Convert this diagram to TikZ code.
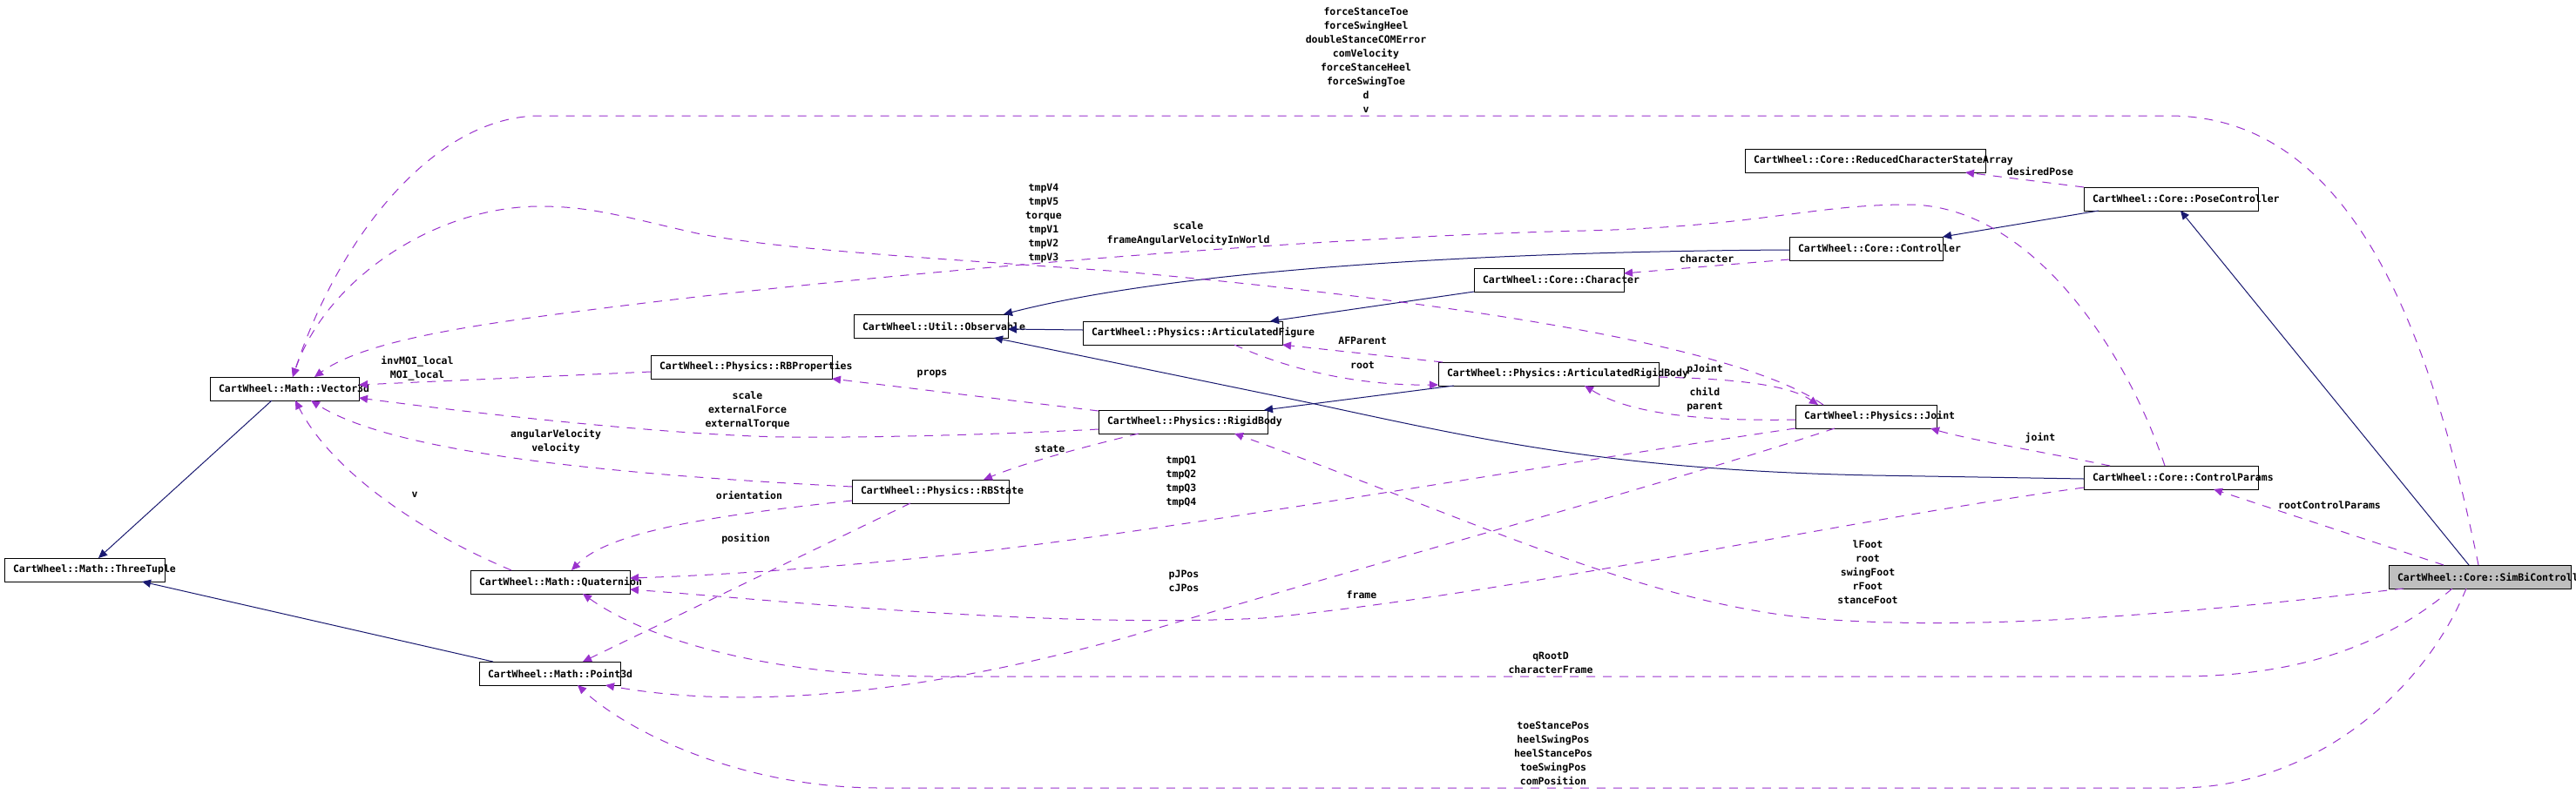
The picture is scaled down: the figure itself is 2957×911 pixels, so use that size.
\documentclass[tikz,border=0pt]{standalone}
\usepackage{fontspec}
\newfontfamily\dxfont{DejaVu Sans Mono}
\usetikzlibrary{arrows.meta,calc}
\definecolor{usepurple}{HTML}{9A32CD}
\definecolor{inhblue}{HTML}{191970}
\definecolor{rootgray}{HTML}{BFBFBF}
\newcommand{\labfont}{\dxfont\bfseries\fontsize{11.5}{16}\selectfont}
\begin{document}
\begin{tikzpicture}[x=1pt,y=-1pt,
  clsbox/.style={draw=black, line width=1pt, fill=white, inner xsep=10pt, inner ysep=0pt,
    minimum height=27pt, outer sep=0pt, font=\labfont},
  rootbox/.style={clsbox, fill=rootgray},
  inh/.style={draw=inhblue, line width=1pt, -{Triangle[length=10pt,width=9pt]}},
  use/.style={draw=usepurple, line width=1pt, dash pattern=on 10pt off 9pt, -{Triangle[length=10pt,width=9pt]}},
  lbl/.style={font=\labfont, align=center, inner sep=0pt, text=black}]
\useasboundingbox (0,0) rectangle (2957,911);
\fill[white] (0,0) rectangle (2957,911);

% ---------- class boxes ----------
\node[clsbox] (tt)   at (97,654.5)    {\makebox[164pt][l]{CartWheel::Math::ThreeTuple}};
\node[clsbox] (vec)  at (326.5,446.5) {\makebox[151pt][l]{CartWheel::Math::Vector3d}};
\node[clsbox] (quat) at (631.5,668.5) {\makebox[163pt][l]{CartWheel::Math::Quaternion}};
\node[clsbox] (p3)   at (631,773.5)   {\makebox[142pt][l]{CartWheel::Math::Point3d}};
\node[clsbox] (rbp)  at (851,421.5)   {\makebox[188pt][l]{CartWheel::Physics::RBProperties}};
\node[clsbox] (obs)  at (1068.5,374.5){\makebox[157pt][l]{CartWheel::Util::Observable}};
\node[clsbox] (rbs)  at (1068,564.5)  {\makebox[160pt][l]{CartWheel::Physics::RBState}};
\node[clsbox] (rb)   at (1358,484.5)  {\makebox[174pt][l]{CartWheel::Physics::RigidBody}};
\node[clsbox] (af)   at (1357.5,382.5){\makebox[209pt][l]{CartWheel::Physics::ArticulatedFigure}};
\node[clsbox] (arb)  at (1777.5,429.5){\makebox[233pt][l]{CartWheel::Physics::ArticulatedRigidBody}};
\node[clsbox] (ch)   at (1778,321.5)  {\makebox[152pt][l]{CartWheel::Core::Character}};
\node[clsbox] (ctl)  at (2142,285.5)  {\makebox[156pt][l]{CartWheel::Core::Controller}};
\node[clsbox] (rcsa) at (2141,184.5)  {\makebox[256pt][l]{CartWheel::Core::ReducedCharacterStateArray}};
\node[clsbox] (jt)   at (2142,478.5)  {\makebox[142pt][l]{CartWheel::Physics::Joint}};
\node[clsbox] (pc)   at (2492,228.5)  {\makebox[180pt][l]{CartWheel::Core::PoseController}};
\node[clsbox] (cp)   at (2492,548.5)  {\makebox[180pt][l]{CartWheel::Core::ControlParams}};
\node[rootbox] (sbc) at (2846.5,662.5){\makebox[189pt][l]{CartWheel::Core::SimBiController}};

% ---------- inheritance ----------
\draw[inh] ($(vec.north west)+(71,27)$) -- ($(tt.north west)+(108,0)$);
\draw[inh] ($(p3.north west)+(16,0)$) -- ($(tt.north west)+(158,27)$);
\draw[inh] ($(ctl.north west)+(0,15)$) .. controls (1700,289) and (1350,310) .. ($(obs.north west)+(172,0)$);
\draw[inh] ($(af.north west)+(0,10)$) -- ($(obs.north west)+(177,17)$);
\draw[inh] ($(cp.north west)+(0,15)$) -- (2150,546) .. controls (1850,540) and (1700,505) .. (1500,462) -- ($(obs.north west)+(161,27)$);
\draw[inh] ($(ch.north west)+(0,27)$) -- ($(af.north west)+(215,0)$);
\draw[inh] ($(arb.north west)+(18,27)$) -- ($(rb.north west)+(190,0)$);
\draw[inh] ($(pc.north west)+(17,27)$) -- ($(ctl.north west)+(176,0)$);
\draw[inh] ($(sbc.north west)+(92,0)$) -- ($(pc.north west)+(111,27)$);

% ---------- usage ----------
\draw[use] ($(rbp.north west)+(0,19)$) -- ($(vec.north west)+(171,9)$);
\draw[use] ($(rb.north west)+(0,22)$) .. controls (1150,499) and (1000,503) .. (904,502)
   .. controls (800,501) and (600,482) .. ($(vec.north west)+(171,24)$);
\draw[use] ($(rbs.north west)+(0,8)$) .. controls (700,545) and (450,520) .. ($(vec.north west)+(116,27)$);
\draw[use] ($(quat.north west)+(47,0)$) .. controls (480,610) and (380,540) .. ($(vec.north west)+(98,27)$);
\draw[use] ($(rb.north west)+(0,1)$) -- ($(rbp.north west)+(208,27)$);
\draw[use] ($(rb.north west)+(46,27)$) .. controls (1250,512) and (1180,530) .. ($(rbs.north west)+(151,0)$);
\draw[use] ($(rbs.north west)+(0,24)$) .. controls (820,592) and (700,610) .. ($(quat.north west)+(116,0)$);
\draw[use] ($(rbs.north west)+(67,27)$) -- ($(p3.north west)+(119,0)$);
\draw[use] ($(jt.north west)+(0,27)$) .. controls (1800,530) and (1400,600) .. (1138,632)
   .. controls (1000,648) and (850,660) .. ($(quat.north west)+(183,9)$);
\draw[use] ($(cp.north west)+(0,25)$) .. controls (2100,600) and (1750,680) .. (1450,710)
   .. controls (1200,722) and (900,690) .. ($(quat.north west)+(183,22)$);
\draw[use] ($(sbc.north west)+(73,27)$) .. controls (2740,740) and (2640,777) .. (2500,777) -- (1074,777)
   .. controls (900,777) and (750,740) .. ($(quat.north west)+(129,27)$);
\draw[use] ($(sbc.north west)+(89,27)$) .. controls (2780,800) and (2650,905) .. (2500,905) -- (1010,905)
   .. controls (850,905) and (720,840) .. ($(p3.north west)+(113,27)$);
\draw[use] ($(jt.north west)+(45,27)$) .. controls (1900,560) and (1600,640) .. (1300,730)
   .. controls (1050,800) and (850,815) .. ($(p3.north west)+(145,27)$);
\draw[use] ($(jt.north west)+(0,17)$) .. controls (1950,484) and (1870,475) .. ($(arb.north west)+(168,27)$);
\draw[use] ($(arb.north west)+(253,17)$) .. controls (1980,435) and (2050,440) .. ($(jt.north west)+(26,0)$);
\draw[use] ($(af.north west)+(174,27)$) .. controls (1480,425) and (1560,443) .. ($(arb.north west)+(0,26)$);
\draw[use] ($(arb.north west)+(5,0)$) -- ($(af.north west)+(229,27)$);
\draw[use] ($(ctl.north west)+(0,26)$) -- ($(ch.north west)+(172,6)$);
\draw[use] (pc.north west) -- ($(rcsa.north west)+(253,27)$);
\draw[use] ($(cp.north west)+(30,0)$) .. controls (2350,520) and (2260,505) .. ($(jt.north west)+(155,27)$);
\draw[use] ($(sbc.north west)+(63,0)$) -- ($(cp.north west)+(149,27)$);
\draw[use] ($(sbc.north west)+(17,27)$) .. controls (2550,700) and (2300,725) .. (2104,712)
   .. controls (1900,700) and (1700,600) .. ($(rb.north west)+(156,27)$);
\draw[use] ($(sbc.north west)+(103,0)$) .. controls (2790,380) and (2700,133) .. (2490,133) -- (620,133)
   .. controls (500,133) and (390,270) .. ($(vec.north west)+(95,0)$);
\draw[use] ($(jt.north west)+(32,0)$) .. controls (2000,400) and (1700,350) .. (1300,313)
   .. controls (1100,298) and (900,288) .. (800,268) .. controls (720,250) and (680,237) .. (620,237)
   .. controls (500,237) and (375,320) .. ($(vec.north west)+(95,0)$);
\draw[use] ($(cp.north west)+(93,0)$) .. controls (2440,400) and (2330,235) .. (2190,235)
   .. controls (2080,235) and (2020,260) .. (1819,265) .. controls (1500,272) and (1000,315) .. (700,353)
   .. controls (550,372) and (420,390) .. ($(vec.north west)+(120,0)$);

% ---------- labels ----------
\node[lbl] (lw) at (1568,69) {forceStanceToe\\forceSwingHeel\\doubleStanceCOMError\\comVelocity\\forceStanceHeel\\forceSwingToe\\d\\v};
\node[lbl] (lx) at (1198,256) {tmpV4\\tmpV5\\torque\\tmpV1\\tmpV2\\tmpV3};
\node[lbl] (ly) at (1364,268) {scale\\frameAngularVelocityInWorld};
\node[lbl] (la) at (479,423) {invMOI\_local\\MOI\_local};
\node[lbl] (lb) at (858,471) {scale\\externalForce\\externalTorque};
\node[lbl] (lc) at (638,507) {angularVelocity\\velocity};
\node[lbl] (ld) at (476,568) {v};
\node[lbl] (le) at (1070,429) {props};
\node[lbl] (lf) at (1205,516) {state};
\node[lbl] (lg) at (860,569) {orientation};
\node[lbl] (lh) at (856,619) {position};
\node[lbl] (li) at (1356,553) {tmpQ1\\tmpQ2\\tmpQ3\\tmpQ4};
\node[lbl] (lj) at (1563,683) {frame};
\node[lbl] (lk) at (1780,761) {qRootD\\characterFrame};
\node[lbl] (ll) at (1783,865) {toeStancePos\\heelSwingPos\\heelStancePos\\toeSwingPos\\comPosition};
\node[lbl] (lm) at (1359,667) {pJPos\\cJPos};
\node[lbl] (ln) at (1957,459) {child\\parent};
\node[lbl] (lo) at (1957,424) {pJoint};
\node[lbl] (lp) at (1564,420) {root};
\node[lbl] (lq) at (1564,391) {AFParent};
\node[lbl] (lr) at (1959,297) {character};
\node[lbl] (ls) at (2342,197) {desiredPose};
\node[lbl] (lt) at (2342,503) {joint};
\node[lbl] (lu) at (2674,580) {rootControlParams};
\node[lbl] (lv) at (2144,657) {lFoot\\root\\swingFoot\\rFoot\\stanceFoot};
\end{tikzpicture}
\end{document}
